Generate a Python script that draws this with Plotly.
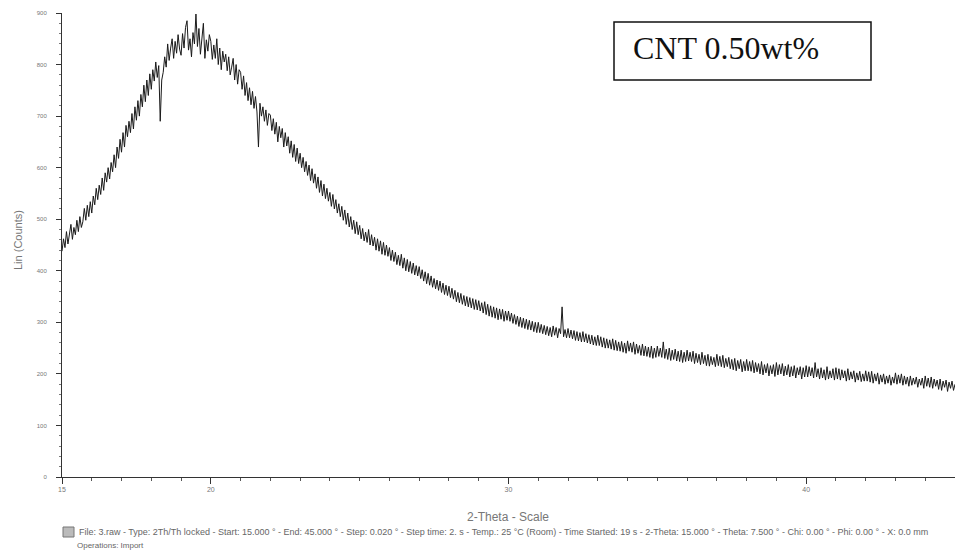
import plotly.graph_objects as go

# 2-theta start/step and counts (step 0.05 deg)
theta_start = 15.0
theta_step = 0.05
counts = [
    438, 462, 445, 476, 452, 470, 490, 461, 484, 470, 498, 476, 505, 484, 495, 521, 498, 527, 505, 534,
    512, 545, 528, 560, 538, 566, 548, 580, 556, 590, 572, 600, 578, 610, 592, 625, 600, 640, 618, 655,
    630, 668, 640, 682, 660, 690, 668, 705, 675, 718, 692, 730, 700, 742, 718, 760, 728, 770, 740, 782,
    752, 790, 768, 805, 775, 798, 690, 770, 785, 815, 795, 840, 808, 832, 850, 812, 845, 822, 858, 830,
    818, 860, 832, 872, 885, 828, 850, 815, 862, 840, 898, 835, 870, 820, 855, 880, 812, 848, 826, 858,
    845, 810, 838, 812, 850, 800, 832, 790, 826, 805, 820, 788, 815, 780, 795, 812, 770, 800, 762, 790,
    785, 752, 778, 740, 765, 730, 755, 722, 748, 715, 738, 708, 640, 725, 700, 718, 690, 712, 682, 705,
    702, 672, 695, 665, 688, 650, 680, 658, 676, 640, 668, 642, 660, 628, 652, 620, 645, 612, 638, 608,
    628, 600, 620, 592, 612, 585, 605, 575, 598, 570, 588, 560, 582, 552, 575, 545, 568, 540, 560, 535,
    552, 525, 548, 520, 538, 512, 530, 505, 525, 498, 518, 490, 512, 485, 505, 480, 498, 472, 495, 470,
    488, 462, 482, 458, 475, 455, 480, 450, 470, 448, 465, 440, 462, 438, 458, 432, 455, 430, 450, 428,
    445, 420, 440, 418, 436, 412, 430, 410, 432, 405, 425, 400, 422, 398, 418, 395, 415, 392, 410, 390,
    408, 385, 402, 380, 398, 375, 395, 372, 390, 368, 385, 365, 382, 362, 380, 358, 376, 354, 372, 352,
    370, 348, 366, 345, 362, 340, 358, 338, 356, 335, 352, 332, 350, 330, 348, 328, 346, 325, 344, 324,
    342, 322, 338, 318, 340, 315, 335, 312, 332, 310, 330, 308, 328, 305, 326, 306, 325, 302, 322, 304,
    322, 302, 318, 298, 315, 296, 312, 292, 310, 290, 308, 288, 306, 286, 304, 285, 302, 282, 300, 280,
    300, 280, 296, 278, 294, 276, 292, 274, 290, 272, 293, 275, 290, 270, 288, 278, 330, 272, 286, 270,
    288, 270, 285, 268, 284, 265, 282, 264, 280, 262, 282, 262, 278, 260, 276, 258, 275, 256, 272, 255,
    275, 255, 272, 252, 270, 250, 268, 250, 266, 248, 268, 246, 265, 245, 262, 244, 263, 242, 260, 240,
    264, 244, 260, 242, 262, 238, 258, 240, 255, 236, 258, 235, 254, 234, 252, 232, 254, 230, 250, 232,
    254, 234, 250, 232, 262, 230, 248, 228, 250, 226, 246, 228, 248, 225, 244, 224, 246, 222, 242, 224,
    246, 225, 242, 224, 244, 220, 240, 222, 238, 218, 242, 220, 236, 216, 238, 215, 234, 218, 232, 214,
    238, 216, 234, 214, 236, 212, 230, 214, 232, 210, 228, 208, 230, 206, 226, 210, 228, 204, 224, 206,
    228, 206, 224, 205, 226, 202, 222, 204, 220, 200, 224, 198, 218, 202, 220, 196, 216, 200, 218, 195,
    222, 198, 218, 200, 220, 196, 215, 198, 218, 194, 214, 196, 216, 192, 212, 198, 214, 190, 212, 194,
    216, 194, 214, 196, 212, 192, 222, 194, 210, 190, 212, 192, 208, 188, 214, 190, 206, 192, 210, 188,
    212, 190, 210, 188, 208, 192, 206, 186, 210, 188, 204, 190, 206, 184, 202, 188, 205, 185, 200, 186,
    206, 186, 204, 184, 205, 182, 200, 186, 202, 180, 198, 184, 200, 180, 196, 182, 198, 178, 194, 182,
    202, 180, 198, 182, 200, 178, 196, 180, 194, 176, 196, 178, 192, 180, 194, 174, 190, 178, 192, 172,
    196, 176, 192, 174, 194, 172, 190, 176, 188, 170, 190, 168, 186, 174, 188, 166, 184, 172, 186, 168,
    180,
]
two_theta = [round(theta_start + i * theta_step, 3) for i in range(len(counts))]

x_tickvals = [15, 20, 30, 40]
x_ticktext = ["15", "20", "30", "40"]
y_tickvals = [0, 100, 200, 300, 400, 500, 600, 700, 800, 900]

label_text = "CNT 0.50wt%"
x_title = "2-Theta - Scale"
y_title = "Lin (Counts)"
footer1 = ("File: 3.raw - Type: 2Th/Th locked - Start: 15.000 ° - End: 45.000 ° - Step: 0.020 ° - "
           "Step time: 2. s - Temp.: 25 °C (Room) - Time Started: 19 s - 2-Theta: 15.000 ° - "
           "Theta: 7.500 ° - Chi: 0.00 ° - Phi: 0.00 ° - X: 0.0 mm")
footer2 = "Operations: Import"

W, H = 955, 555
L, R, T, B = 62, 0, 13, 78
pw, ph = W - L - R, H - T - B

def px(x):
    return (x - L) / pw

def py(y):
    return (H - B - y) / ph

fig = go.Figure()
fig.add_trace(go.Scatter(
    x=two_theta, y=counts, mode="lines",
    line=dict(color="#1a1a1a", width=1),
    hoverinfo="skip", showlegend=False,
))

fig.update_layout(
    width=W, height=H,
    margin=dict(l=L, r=R, t=T, b=B),
    paper_bgcolor="white", plot_bgcolor="white",
    showlegend=False,
    xaxis=dict(
        range=[15, 45], tickvals=x_tickvals, ticktext=x_ticktext,
        showgrid=False, zeroline=False,
        showline=True, linecolor="#333", linewidth=1,
        ticks="outside", ticklen=6, tickcolor="#333", tickwidth=1,
        tickfont=dict(family="Arial, Liberation Sans", size=7, color="#777"),
        minor=dict(tick0=15, dtick=1, ticks="outside", ticklen=3, tickcolor="#555"),
    ),
    yaxis=dict(
        range=[0, 900], tickvals=y_tickvals,
        showgrid=False, zeroline=False,
        showline=True, linecolor="#333", linewidth=1,
        ticks="outside", ticklen=5, tickcolor="#333", tickwidth=1,
        tickfont=dict(family="Arial, Liberation Sans", size=6, color="#777"),
        ticklabelstandoff=8,
        minor=dict(tick0=0, dtick=20, ticks="outside", ticklen=2, tickcolor="#777"),
    ),
)

base_font = "Arial, Liberation Sans"
annotations = [
    dict(text=y_title, x=px(18), y=py(240), xref="paper", yref="paper",
         xanchor="center", yanchor="middle", textangle=-90, showarrow=False,
         font=dict(family=base_font, size=11, color="#777")),
    dict(text=x_title, x=px(508), y=py(517), xref="paper", yref="paper",
         xanchor="center", yanchor="middle", showarrow=False,
         font=dict(family=base_font, size=12, color="#777")),
    dict(text=footer1, x=px(77), y=py(532), xref="paper", yref="paper",
         xanchor="left", yanchor="middle", showarrow=False,
         font=dict(family=base_font, size=9, color="#666")),
    dict(text=footer2, x=px(75), y=py(545), xref="paper", yref="paper",
         xanchor="left", yanchor="middle", showarrow=False,
         font=dict(family=base_font, size=8, color="#666")),
    dict(text=label_text, x=px(726), y=py(48), xref="paper", yref="paper",
         xanchor="center", yanchor="middle", showarrow=False,
         font=dict(family="Liberation Serif, Times New Roman", size=32, color="#111")),
]
fig.update_layout(annotations=annotations)

fig.add_shape(type="rect", xref="paper", yref="paper",
              x0=px(614), x1=px(871), y0=py(80), y1=py(22),
              line=dict(color="#111", width=1.5), fillcolor="rgba(0,0,0,0)")
fig.add_shape(type="rect", xref="paper", yref="paper",
              x0=px(63), x1=px(74), y0=py(537), y1=py(527),
              line=dict(color="#777", width=1), fillcolor="#bbb")

fig.write_html("out.html")
